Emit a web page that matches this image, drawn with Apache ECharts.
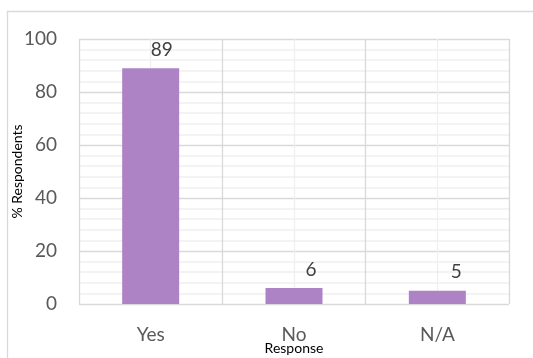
<!DOCTYPE html>
<html>
<head>
<meta charset="utf-8">
<script src="https://cdn.jsdelivr.net/npm/echarts@6/dist/echarts.min.js"></script>
<style>
  html, body { margin: 0; padding: 0; background: #fff; }
  #chart { width: 533px; height: 358px; }
</style>
</head>
<body>
<div id="chart"></div>
<script>
// Survey responses (% of respondents)
const categories = ['Yes', 'No', 'N/A'];
const percentValues = [89, 6, 5];
const yTicks = [0, 20, 40, 60, 80, 100];

const FONT = 'Lato, "Open Sans", sans-serif';
const labelShift = [11, 17, 19];

const chart = echarts.init(document.getElementById('chart'), null, { renderer: 'canvas' });

chart.setOption({
  animation: false,
  backgroundColor: '#ffffff',
  grid: { left: 79, right: 24, top: 39, bottom: 54, containLabel: false, outerBoundsMode: 'none' },
  xAxis: [
    {
      type: 'category',
      data: categories,
      boundaryGap: true,
      axisLine: { show: false },
      axisTick: { show: false },
      splitLine: { show: false },
      axisLabel: { color: '#595959', fontSize: 19, fontFamily: FONT, margin: 21 },
      name: 'Response',
      nameLocation: 'middle',
      nameGap: 37,
      nameMoveOverlap: false,
      nameTextStyle: { color: '#000', fontSize: 14, fontFamily: FONT }
    },
    {
      // vertical gridlines: category boundaries and centres
      type: 'value',
      min: 0,
      max: categories.length,
      interval: 0.5,
      position: 'bottom',
      axisLine: { show: false },
      axisTick: { show: false },
      axisLabel: { show: false },
      splitLine: { show: true, lineStyle: { color: ['#d9d9d9', '#efefef'], width: 1.3 } }
    }
  ],
  yAxis: {
    type: 'value',
    min: yTicks[0],
    max: yTicks[yTicks.length - 1],
    interval: yTicks[1] - yTicks[0],
    axisLine: { show: false },
    axisTick: { show: false },
    axisLabel: { color: '#595959', fontSize: 19, fontFamily: FONT, margin: 22 },
    splitLine: { show: true, lineStyle: { color: '#d9d9d9', width: 1.3 } },
    minorTick: { show: false, splitNumber: 5 },
    minorSplitLine: { show: true, lineStyle: { color: '#efefef', width: 1.5 } },
    name: '% Respondents',
    nameLocation: 'middle',
    nameRotate: 90,
    nameGap: 55,
    nameMoveOverlap: false,
    nameTextStyle: { color: '#000', fontSize: 14, fontFamily: FONT }
  },
  series: [{
    type: 'bar',
    xAxisIndex: 0,
    barWidth: 57,
    itemStyle: { color: '#ad83c6' },
    label: {
      show: true,
      position: 'top',
      distance: 9,
      color: '#404040',
      fontSize: 19,
      fontFamily: FONT
    },
    data: percentValues.map((v, i) => ({ value: v, label: { offset: [labelShift[i], 0] } })),
    z: 3
  }],
  graphic: [
    {
      type: 'polyline',
      shape: { points: [[7.5, 358], [7.5, 11.5], [533, 11.5]] },
      style: { stroke: '#d9d9d9', lineWidth: 1.3, fill: null },
      silent: true
    }
  ]
});
</script>
</body>
</html>
